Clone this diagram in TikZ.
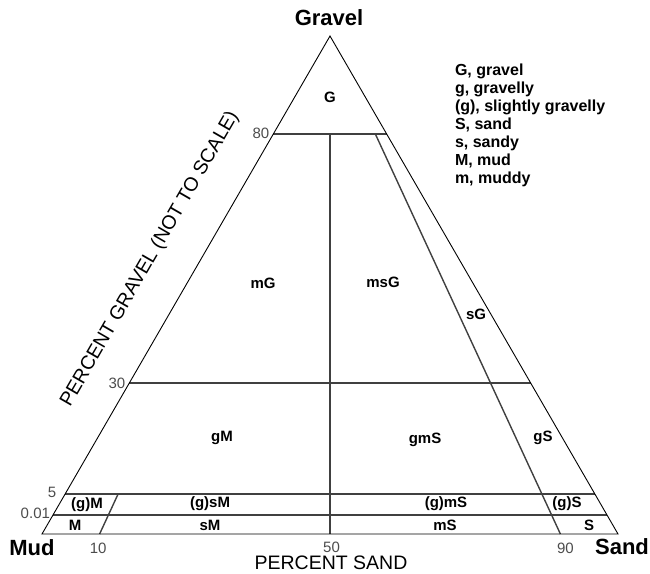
\documentclass[tikz,border=0pt]{standalone}
\usepackage{fontspec}
\setmainfont{Liberation Sans}
\usepackage{xcolor}
\usetikzlibrary{calc}
\newcommand{\lbl}{\fontsize{15}{15}\selectfont\bfseries}
\newcommand{\keyf}{\fontsize{16}{18}\selectfont\bfseries}
\newcommand{\apx}{\fontsize{22}{24}\selectfont\bfseries}
\newcommand{\tck}{\fontsize{15}{15}\selectfont\color{black!70}}
\newcommand{\axl}{\fontsize{19.5}{20}\selectfont}
\tikzset{
  edge/.style={black, line width=0.9pt},
  bnd/.style={black!75, line width=1.4pt},
}

\begin{document}
\begin{tikzpicture}[x=1pt, y=-1pt, every node/.style={inner sep=0pt, outer sep=0pt}]
\useasboundingbox (0,0) rectangle (650,573);
% ---- corners of the triangle
\coordinate (mud) at (42,534);
\coordinate (sand) at (618,534);
\coordinate (gravel) at (330,36);
% ---- sand ratio on the base
\coordinate (b10) at ($(mud)!0.1!(sand)$);
\coordinate (b50) at ($(mud)!0.5!(sand)$);
\coordinate (b90) at ($(mud)!0.9!(sand)$);
% ---- gravel levels (not to scale)
\coordinate (l80) at ($(mud)!0.803!(gravel)$);   \coordinate (r80) at ($(sand)!0.803!(gravel)$);
\coordinate (l30) at ($(mud)!0.303!(gravel)$);   \coordinate (r30) at ($(sand)!0.303!(gravel)$);
\coordinate (l5) at ($(mud)!0.0803!(gravel)$);   \coordinate (r5) at ($(sand)!0.0803!(gravel)$);
\coordinate (l001) at ($(mud)!0.038!(gravel)$);  \coordinate (r001) at ($(sand)!0.038!(gravel)$);
% ---- class boundaries
\draw[bnd] (l80) -- (r80);
\draw[bnd] (l30) -- (r30);
\draw[bnd] (l5) -- (r5);
\draw[bnd] (l001) -- (r001);
\draw[bnd] ($(gravel)!0.197!(b50)$) -- (b50);
\draw[bnd] ($(gravel)!0.197!(b90)$) -- (b90);
\draw[bnd] ($(gravel)!0.9197!(b10)$) -- (b10);
% ---- outline
\draw[edge] (mud) -- (sand) -- (gravel) -- cycle;
% ---- corner names
\node[font=\apx] (ngravel) at (329,18) {Gravel};
\node[font=\apx] (nmud) at (32,548) {Mud};
\node[font=\apx] (nsand) at (622,547) {Sand};
% ---- scale ticks
\node[font=\tck, anchor=east] (t80) at ($(l80)+(-4,-1)$) {80};
\node[font=\tck, anchor=east] (t30) at ($(l30)+(-4,0)$) {30};
\node[font=\tck, anchor=east] (t5) at ($(l5)+(-9,-2)$) {5};
\node[font=\tck, anchor=east] (t001) at ($(l001)+(-3,-2)$) {0.01};
\node[font=\tck] (t10) at ($(b10)+(-1.5,14)$) {10};
\node[font=\tck] (t50) at ($(b50)+(1.5,13)$) {50};
\node[font=\tck] (t90) at ($(b90)+(5,14)$) {90};
% ---- axis titles
\node[font=\axl] (xsand) at (331,563) {PERCENT SAND};
\node[font=\axl, rotate=60] (xgravel) at (150,259) {PERCENT GRAVEL (NOT TO SCALE)};
% ---- classes
\node[font=\lbl] (cG) at (330,97) {G};
\node[font=\lbl] (cmG) at (263,283) {mG};
\node[font=\lbl] (cmsG) at (383,282) {msG};
\node[font=\lbl] (csG) at (476,314) {sG};
\node[font=\lbl] (cgM) at (222,438) {gM};
\node[font=\lbl] (cgmS) at (425,440) {gmS};
\node[font=\lbl] (cgS) at (543,438) {gS};
\node[font=\lbl] (csgM) at (87,505) {(g)M};
\node[font=\lbl] (csgsM) at (210,504) {(g)sM};
\node[font=\lbl] (csgmS) at (446,504) {(g)mS};
\node[font=\lbl] (csgS) at (567,504) {(g)S};
\node[font=\lbl] (cM) at (75,525) {M};
\node[font=\lbl] (csM) at (210,525) {sM};
\node[font=\lbl] (cmS) at (445,525) {mS};
\node[font=\lbl] (cS) at (589,525) {S};
% ---- key
\foreach \t [count=\i] in {{G, gravel},{g, gravelly},{(g), slightly gravelly},{S, sand},{s, sandy},{M, mud},{m, muddy}}
  \node[font=\keyf, anchor=base west] (key\i) at (455,{75+18*(\i-1)}) {\t};
\end{tikzpicture}
\end{document}
